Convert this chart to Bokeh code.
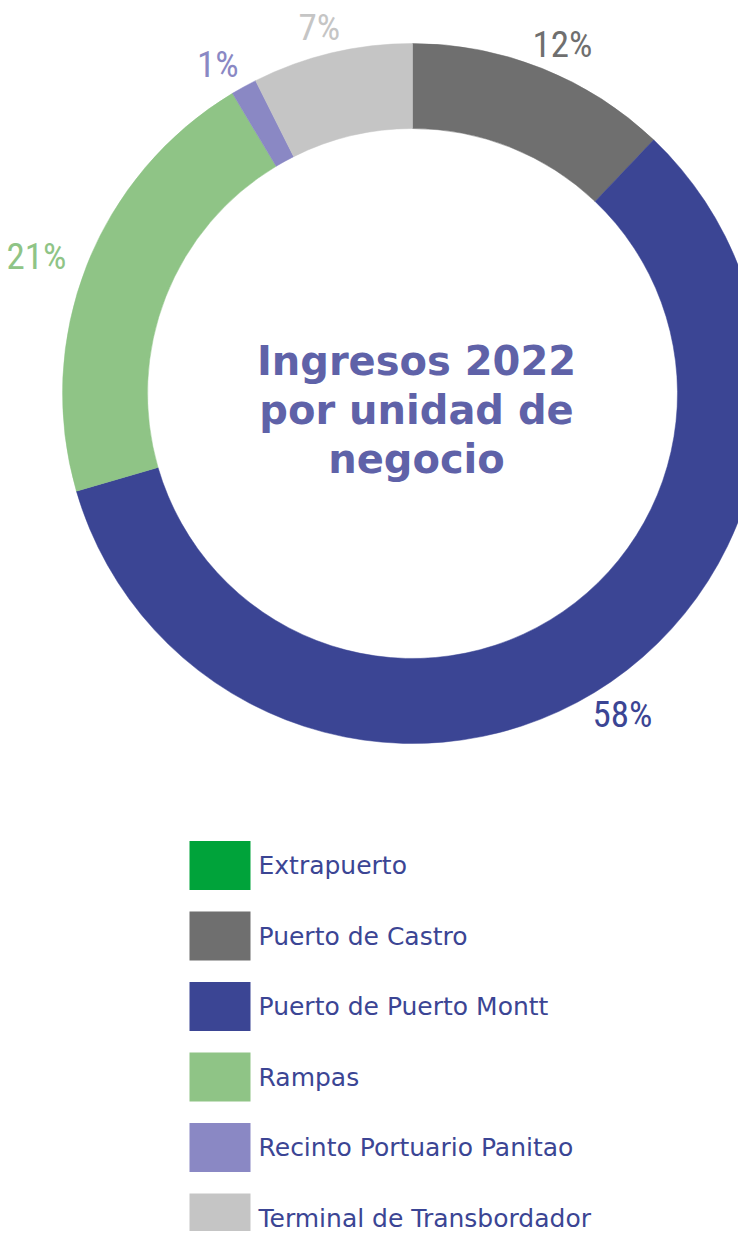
import math
from bokeh.plotting import figure
from bokeh.models import Range1d
from bokeh.core.properties import value
from bokeh.embed import file_html
from bokeh.resources import INLINE

# ---- data ----
categories = ["Extrapuerto", "Puerto de Castro", "Puerto de Puerto Montt",
              "Rampas", "Recinto Portuario Panitao", "Terminal de Transbordador"]
shares = [0.0, 12.1, 58.4, 20.9, 1.2, 7.4]
pct_labels = ["", "12%", "58%", "21%", "1%", "7%"]
colors = ["#00a33a", "#6f6f6f", "#3b4594", "#8fc486", "#8a88c4", "#c5c5c5"]
title_lines = ["Ingresos 2022", "por unidad de", "negocio"]

W, H = 738, 1231
p = figure(width=W, height=H, output_backend="svg", toolbar_location=None,
           x_range=Range1d(0, W), y_range=Range1d(-H, 0),
           min_border=0, outline_line_color=None, match_aspect=False)
p.axis.visible = False
p.grid.visible = False
p.background_fill_color = "white"
p.border_fill_color = "white"

cx, cy = 412, -393
r_in, r_out = 265, 350
total = sum(shares)

# wedges, clockwise from top
starts, ends, wcols, mids = [], [], [], []
acc = 0.0
for s, c in zip(shares, colors):
    a0 = math.pi / 2 - 2 * math.pi * acc / total
    a1 = math.pi / 2 - 2 * math.pi * (acc + s) / total
    starts.append(a0); ends.append(a1); wcols.append(c)
    mids.append((a0 + a1) / 2)
    acc += s

sel = [i for i in range(len(shares)) if shares[i] > 0]
p.annular_wedge(x=[cx] * len(sel), y=[cy] * len(sel),
                inner_radius=r_in, outer_radius=r_out,
                start_angle=[starts[i] for i in sel], end_angle=[ends[i] for i in sel],
                direction="clock", fill_color=[wcols[i] for i in sel],
                line_color=[wcols[i] for i in sel], line_width=0.5)

# percentage labels (outside the ring, pushed sideways by half a label width)
r_lab, half_w = 376, 28
lx = [cx + (r_lab + half_w) * math.cos(mids[i]) for i in sel]
ly = [cy + r_lab * math.sin(mids[i]) for i in sel]
p.text(x=lx, y=ly, text=[pct_labels[i] for i in sel],
       text_color=[wcols[i] for i in sel], text_align="center", text_baseline="middle",
       text_font=value("'Roboto Condensed', 'DejaVu Sans Condensed', Roboto, sans-serif"),
       text_font_size="37px")

# center title
p.text(x=[cx + 4] * 3, y=[cy + 33, cy - 16, cy - 65], text=title_lines,
       text_color="#5f62a8", text_align="center", text_baseline="alphabetic",
       text_font=value("DejaVu Sans"), text_font_style="bold", text_font_size="40px")

# legend
row0, step = -865, -70.5
sq_x, sq_w, sq_h = 219.5, 61, 49
ys = [row0 + step * i for i in range(len(categories))]
p.rect(x=[sq_x] * len(categories), y=ys, width=sq_w, height=sq_h,
       fill_color=colors, line_color=None)
p.text(x=[258] * len(categories), y=ys, text=categories, text_color="#3b4594",
       text_align="left", text_baseline="middle",
       text_font=value("DejaVu Sans"), text_font_size="25px")

open("out.html", "w").write(file_html(p, INLINE))
